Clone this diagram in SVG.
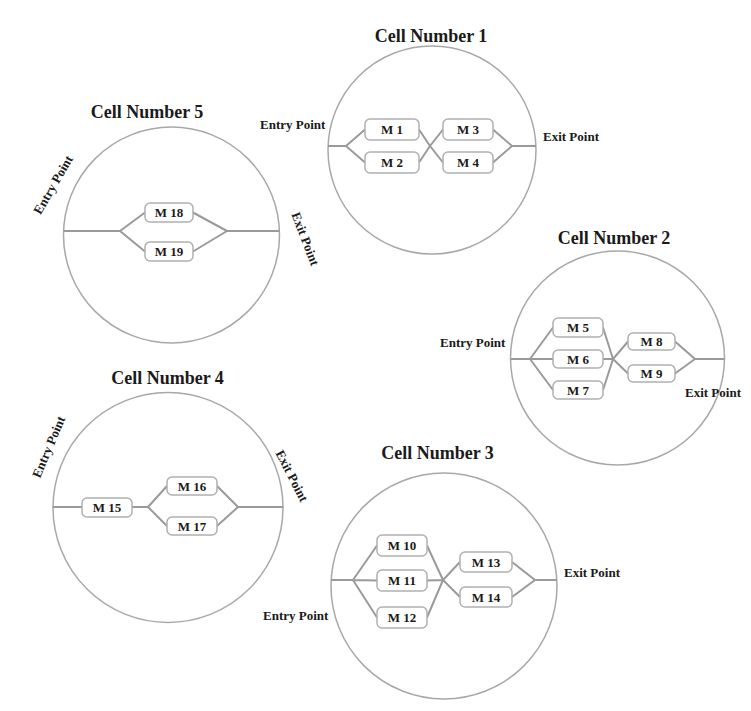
<svg xmlns="http://www.w3.org/2000/svg" width="751" height="711" viewBox="0 0 751 711">
<style>
text{font-family:"Liberation Serif","Times New Roman",serif;font-weight:bold;fill:#1a1a1a}
.title{font-size:18px;text-anchor:middle}
.lbl{font-size:13px}
.m{font-size:13px;text-anchor:middle}
.cell{fill:none;stroke:#a8a8a8;stroke-width:1.5}
.box{fill:#fff;stroke:#b0b0b0;stroke-width:1.5}
.con line,.con path{stroke:#9a9a9a;stroke-width:2;fill:none}
</style>
<rect width="751" height="711" fill="#fff"/>

<g id="cell1">
<circle class="cell" cx="432" cy="150" r="104"/>
<text class="title" x="431" y="42">Cell Number 1</text>
<text class="lbl" x="260" y="129">Entry Point</text>
<text class="lbl" x="543" y="141">Exit Point</text>
</g>
<g id="cell5">
<circle class="cell" cx="171.5" cy="235" r="108"/>
<text class="title" x="147" y="118">Cell Number 5</text>
<text class="lbl" text-anchor="middle" transform="translate(53.5,185) rotate(-60)" y="4">Entry Point</text>
<text class="lbl" text-anchor="middle" transform="translate(305,239) rotate(69)" y="4">Exit Point</text>
</g>
<g id="cell2">
<circle class="cell" cx="617.5" cy="358" r="107"/>
<text class="title" x="614" y="244">Cell Number 2</text>
<text class="lbl" x="440" y="347">Entry Point</text>
<text class="lbl" x="685" y="397">Exit Point</text>
</g>
<g id="cell4">
<circle class="cell" cx="168" cy="507.5" r="115"/>
<text class="title" x="167.5" y="384">Cell Number 4</text>
<text class="lbl" text-anchor="middle" transform="translate(49,447) rotate(-67)" y="4">Entry Point</text>
<text class="lbl" text-anchor="middle" transform="translate(291.5,476) rotate(63)" y="4">Exit Point</text>
</g>
<g id="cell3">
<circle class="cell" cx="444" cy="586" r="113"/>
<text class="title" x="437.5" y="459">Cell Number 3</text>
<text class="lbl" x="263" y="620">Entry Point</text>
<text class="lbl" x="564" y="577">Exit Point</text>
</g>

<g id="connectors" class="con">
<!-- cell 1 -->
<line x1="328" y1="146" x2="346" y2="146"/>
<path d="M346,146 L365,129.5 M346,146 L365,162.5 M419,129.5 L430,146 M419,162.5 L430,146 M430,146 L443,129.5 M430,146 L443,162.5 M493,129.5 L512,146 M493,162.5 L512,146"/>
<line x1="512" y1="146" x2="536" y2="146"/>
<!-- cell 5 -->
<line x1="63.5" y1="231" x2="120" y2="231"/>
<path d="M120,231 L145,212.5 M120,231 L145,251.5 M193,212.5 L227,231 M193,251.5 L227,231"/>
<line x1="227" y1="231" x2="279.5" y2="231"/>
<!-- cell 2 -->
<line x1="510.5" y1="359" x2="530" y2="359"/>
<path d="M530,359 L553,327.5 M530,359 L553,359 M530,359 L553,390 M603,327.5 L613,359 M603,359 L613,359 M603,390 L613,359 M613,359 L628,341.5 M613,359 L628,373.5 M675,341.5 L695,359 M675,373.5 L695,359"/>
<line x1="695" y1="359" x2="724.5" y2="359"/>
<!-- cell 4 -->
<line x1="53" y1="507" x2="82" y2="507"/>
<line x1="132" y1="507" x2="148" y2="507"/>
<path d="M148,507 L167,486 M148,507 L167,526 M217,486 L238,507 M217,526 L238,507"/>
<line x1="238" y1="507" x2="283" y2="507"/>
<!-- cell 3 -->
<line x1="331" y1="580" x2="353" y2="580"/>
<path d="M353,580 L377,545.5 M353,580 L377,580.5 M353,580 L377,617.5 M427,545.5 L443,580 M427,580.5 L443,580 M427,617.5 L443,580 M443,580 L460,562 M443,580 L460,597 M512,562 L535,580 M512,597 L535,580"/>
<line x1="535" y1="580" x2="557" y2="580"/>
</g>

<g id="m1"><rect class="box" x="365" y="119" width="54" height="21" rx="5"/><text class="m" x="392" y="134">M 1</text></g>
<g id="m2"><rect class="box" x="365" y="152" width="54" height="21" rx="5"/><text class="m" x="392" y="167">M 2</text></g>
<g id="m3"><rect class="box" x="443" y="119" width="50" height="21" rx="5"/><text class="m" x="468" y="134">M 3</text></g>
<g id="m4"><rect class="box" x="443" y="152" width="50" height="21" rx="5"/><text class="m" x="468" y="167">M 4</text></g>

<g id="m5"><rect class="box" x="553" y="318" width="50" height="19" rx="5"/><text class="m" x="578" y="332">M 5</text></g>
<g id="m6"><rect class="box" x="553" y="350" width="50" height="18" rx="5"/><text class="m" x="578" y="363.5">M 6</text></g>
<g id="m7"><rect class="box" x="553" y="381" width="50" height="18" rx="5"/><text class="m" x="578" y="394.5">M 7</text></g>
<g id="m8"><rect class="box" x="628" y="333" width="47" height="17" rx="5"/><text class="m" x="651.5" y="346">M 8</text></g>
<g id="m9"><rect class="box" x="628" y="365" width="47" height="17" rx="5"/><text class="m" x="651.5" y="378">M 9</text></g>

<g id="m10"><rect class="box" x="377" y="535" width="50" height="21" rx="5"/><text class="m" x="402" y="550">M 10</text></g>
<g id="m11"><rect class="box" x="377" y="570" width="50" height="21" rx="5"/><text class="m" x="402" y="585">M 11</text></g>
<g id="m12"><rect class="box" x="377" y="607" width="50" height="21" rx="5"/><text class="m" x="402" y="622">M 12</text></g>
<g id="m13"><rect class="box" x="460" y="552" width="52" height="20" rx="5"/><text class="m" x="486" y="566.5">M 13</text></g>
<g id="m14"><rect class="box" x="460" y="587" width="52" height="20" rx="5"/><text class="m" x="486" y="601.5">M 14</text></g>

<g id="m15"><rect class="box" x="82" y="498" width="50" height="19" rx="5"/><text class="m" x="107" y="512">M 15</text></g>
<g id="m16"><rect class="box" x="167" y="477" width="50" height="18" rx="5"/><text class="m" x="192" y="490.5">M 16</text></g>
<g id="m17"><rect class="box" x="167" y="517" width="50" height="18" rx="5"/><text class="m" x="192" y="530.5">M 17</text></g>

<g id="m18"><rect class="box" x="145" y="203" width="48" height="19" rx="5"/><text class="m" x="169" y="217">M 18</text></g>
<g id="m19"><rect class="box" x="145" y="242" width="48" height="19" rx="5"/><text class="m" x="169" y="256">M 19</text></g>
</svg>
